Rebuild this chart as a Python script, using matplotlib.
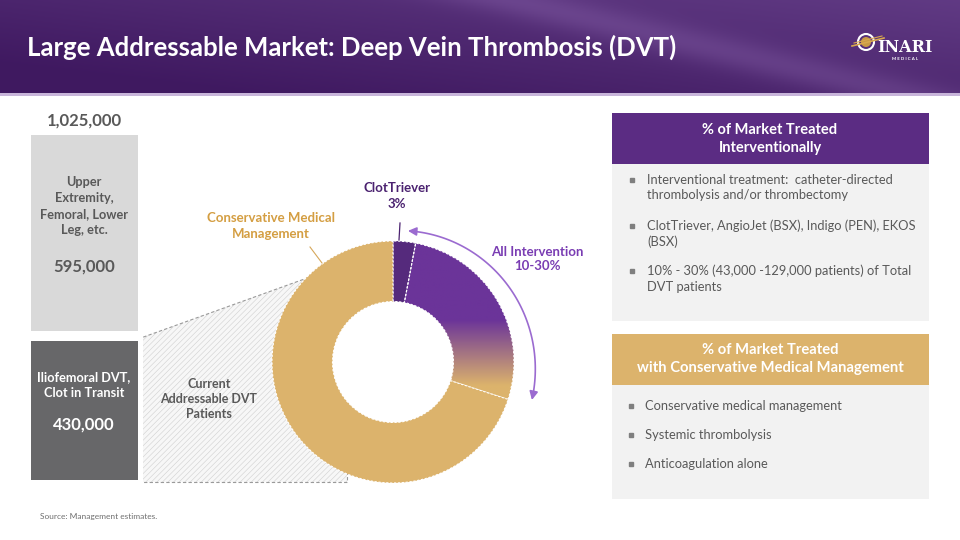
import matplotlib
matplotlib.use('Agg')
import matplotlib.pyplot as plt
import numpy as np
from matplotlib.patches import Rectangle, Polygon, FancyArrowPatch, Circle
from matplotlib.path import Path

plt.rcParams['font.family'] = ['Lato', 'DejaVu Sans']
plt.rcParams['hatch.linewidth'] = 0.4

# data
total_dvt = 1025000
segments = ['Iliofemoral DVT,\nClot in Transit', 'Upper\nExtremity,\nFemoral, Lower\nLeg, etc.']
segment_values = [430000, 595000]
donut_labels = ['ClotTriever', 'Other intervention', 'Conservative Medical Management']
donut_shares = [3, 27, 70]
interv_bullets = ['Interventional treatment:  catheter-directed\nthrombolysis and/or thrombectomy',
                  'ClotTriever, AngioJet (BSX), Indigo (PEN), EKOS\n(BSX)',
                  '10% - 30% (43,000 -129,000 patients) of Total\nDVT patients']
conserv_bullets = ['Conservative medical management', 'Systemic thrombolysis', 'Anticoagulation alone']

PURPLE = '#5b2c83'
GOLD = '#dcb36c'
TXT = '#595959'

W, H = 960, 540
fig = plt.figure(figsize=(9.6, 5.4), dpi=100)


def fa(x0, y0, x1, y1):
    return [x0 / W, 1 - y1 / H, (x1 - x0) / W, (y1 - y0) / H]


def pixel_axes():
    a = fig.add_axes([0, 0, 1, 1])
    a.set_xlim(0, W)
    a.set_ylim(H, 0)
    a.axis('off')
    a.patch.set_alpha(0)
    return a


bg = pixel_axes()

# header gradient
gx = np.linspace(0, 1, 300)[None, :]
gy = np.linspace(0, 1, 60)[:, None]
dark = np.array([0.25, 0.10, 0.38])
light = np.array([0.40, 0.25, 0.54])
t = np.clip(0.55 * gx + 0.45 * (1 - gy) - 0.15, 0, 1)
streak = 0.08 * np.exp(-((gx * 3 - gy * 1.2 - 1.6) ** 2) / 0.05)
img = dark[None, None, :] + (light - dark)[None, None, :] * t[..., None] + streak[..., None]
bg.imshow(np.clip(img, 0, 1), extent=(0, W, 93, 0), aspect='auto', zorder=0)
bg.add_patch(Rectangle((0, 93), W, 2.5, color='#c8b5da', lw=0, zorder=1))
bg.text(27, 47, 'Large Addressable Market: Deep Vein Thrombosis (DVT)', color='white',
        fontsize=18.5, fontweight='bold', va='center', ha='left', zorder=2)

# logo
bg.add_patch(Circle((866, 42), 8, fill=False, ec='white', lw=1.5, zorder=3))
bg.add_patch(Circle((866, 42), 5, color='#c89a45', lw=0, zorder=3))
bg.plot([852, 884], [46, 38], color='#d8a84e', lw=1.2, zorder=4)
bg.plot([854, 882], [43, 36], color='#d8a84e', lw=0.8, zorder=4)
bg.text(905, 48, 'INARI', color='white', fontsize=11.5, fontweight='bold',
        family='DejaVu Serif', ha='center', va='center', zorder=3)
bg.text(905, 59, 'M E D I C A L', color='white', fontsize=3.2, fontweight='bold',
        ha='center', va='center', zorder=3)

# zoom wedge from the bar to the donut
zoom_pts = [(138, 339), (310, 277), (347, 472), (347, 482), (138, 482)]
bg.add_patch(Polygon(zoom_pts, closed=True, fc='#f7f7f7', ec='#d0d0d0', hatch='//////', lw=0, zorder=1))
bg.plot([138, 310], [339, 277], color='#9a9a9a', lw=0.8, ls=(0, (3, 2)), zorder=2)
bg.plot([138, 347, 347], [482, 482, 470], color='#9a9a9a', lw=0.8, ls=(0, (3, 2)), zorder=2)

# right side panels
bg.add_patch(Rectangle((612, 113), 317, 51, color=PURPLE, lw=0))
bg.add_patch(Rectangle((612, 164), 317, 157, color='#f2f2f2', lw=0))
bg.text(770, 139, '% of Market Treated\nInterventionally', color='white', fontsize=10.5, fontweight='bold',
        ha='center', va='center', linespacing=1.35)
for i, b in enumerate(interv_bullets):
    y = 180 + i * 45.5
    bg.plot(632, y, marker='s', ms=2.6, color='#7f7f7f', ls='none')
    bg.text(647, y - 6.5, b, color=TXT, fontsize=9.3, ha='left', va='top', linespacing=1.35)

bg.add_patch(Rectangle((612, 334), 317, 51, color=GOLD, lw=0))
bg.add_patch(Rectangle((612, 385), 317, 114, color='#f2f2f2', lw=0))
bg.text(770, 359, '% of Market Treated\nwith Conservative Medical Management', color='white', fontsize=10.6,
        fontweight='bold', ha='center', va='center', linespacing=1.35)
for i, b in enumerate(conserv_bullets):
    y = 406 + i * 29
    bg.plot(631, y, marker='s', ms=2.6, color='#7f7f7f', ls='none')
    bg.text(645, y, b, color=TXT, fontsize=9.3, ha='left', va='center')

bg.text(40, 517, 'Source: Management estimates.', color='#6f6f6f', fontsize=6, ha='left', va='center')

# stacked bar of DVT patients
bar_ax = fig.add_axes(fa(26, 130, 143, 485))
bar_ax.bar([0], [segment_values[0]], width=1, color='#676769', edgecolor='white', linewidth=7.2)
bar_ax.bar([0], [segment_values[1]], bottom=segment_values[0], width=1, color='#d9d9d9',
           edgecolor='white', linewidth=7.2)
bar_ax.set_xlim(-0.5, 0.5)
bar_ax.set_ylim(0, total_dvt)
bar_ax.axis('off')

# donut
cx, cy, R = 393, 362, 121
half = 160
pie_ax = fig.add_axes(fa(cx - half, cy - half, cx + half, cy + half))
wedges, _ = pie_ax.pie(donut_shares, startangle=90, counterclock=False, radius=1,
                       colors=['#552a7c', 'none', GOLD],
                       wedgeprops=dict(width=0.5, edgecolor='white', linewidth=0.8, linestyle=(0, (2, 1.5))))
for w in wedges:
    w.set_zorder(3)
# purple-to-gold fade inside the intervention slice
fy = np.linspace(1, 0, 200)[:, None]
top_c = np.array([0x6b, 0x34, 0x99]) / 255
bot_c = np.array([0xdc, 0xb3, 0x6c]) / 255
f = np.clip((fy - 0.29) / 0.31, 0, 1)
grad = bot_c[None, None, :] + (top_c - bot_c)[None, None, :] * f[..., None]
grad = np.repeat(grad, 2, axis=1)
gim = pie_ax.imshow(grad, extent=(-0.05, 1.05, -0.7, 1.05), aspect='auto', zorder=2)
gim.set_clip_path(wedges[1])
pie_ax.set_xlim(-half / R, half / R)
pie_ax.set_ylim(-half / R, half / R)
pie_ax.set_aspect('equal')
pie_ax.axis('off')

# foreground texts and annotations
fg = pixel_axes()
fg.text(84, 121, f'{total_dvt:,}', color=TXT, fontsize=12, fontweight='bold', ha='center', va='center')
fg.text(84, 206, segments[1], color=TXT, fontsize=9.2, fontweight='bold', ha='center', va='center',
        linespacing=1.38)
fg.text(84, 267, f'{segment_values[1]:,}', color=TXT, fontsize=12, fontweight='bold', ha='center', va='center')
fg.text(84, 385, segments[0], color='white', fontsize=9.2, fontweight='bold', ha='center', va='center',
        linespacing=1.38)
fg.text(84, 425, f'{segment_values[0]:,}', color='white', fontsize=12, fontweight='bold', ha='center', va='center')
fg.text(209, 399, 'Current\nAddressable DVT\nPatients', color=TXT, fontsize=9, fontweight='bold',
        ha='center', va='center', linespacing=1.3)

ang = np.radians(np.linspace(83.5, -15.3, 80))
rad = np.linspace(132, 144, 80)
arc = np.column_stack([cx + rad * np.cos(ang), cy - rad * np.sin(ang)])
fg.add_patch(FancyArrowPatch(path=Path(arc), arrowstyle='<|-|>,head_length=5,head_width=2.5',
                             color='#9b6bd0', lw=1.2))

fg.text(397, 196, 'ClotTriever\n3%', color='#4b2270', fontsize=9.5, fontweight='bold',
        ha='center', va='center', linespacing=1.3)
fg.plot([400, 399], [223, 240], color='#4b2270', lw=0.9)
fg.text(537, 259, 'All Intervention\n10-30%', color='#7a3db3', fontsize=9.5, fontweight='bold',
        ha='center', va='center', linespacing=1.3)
fg.text(271, 226, 'Conservative Medical\nManagement', color='#d49e42', fontsize=9.5, fontweight='bold',
        ha='center', va='center', linespacing=1.3)
fg.plot([310, 322], [247, 263], color='#d6a75a', lw=0.8)

fig.savefig('out.png', dpi=100)
